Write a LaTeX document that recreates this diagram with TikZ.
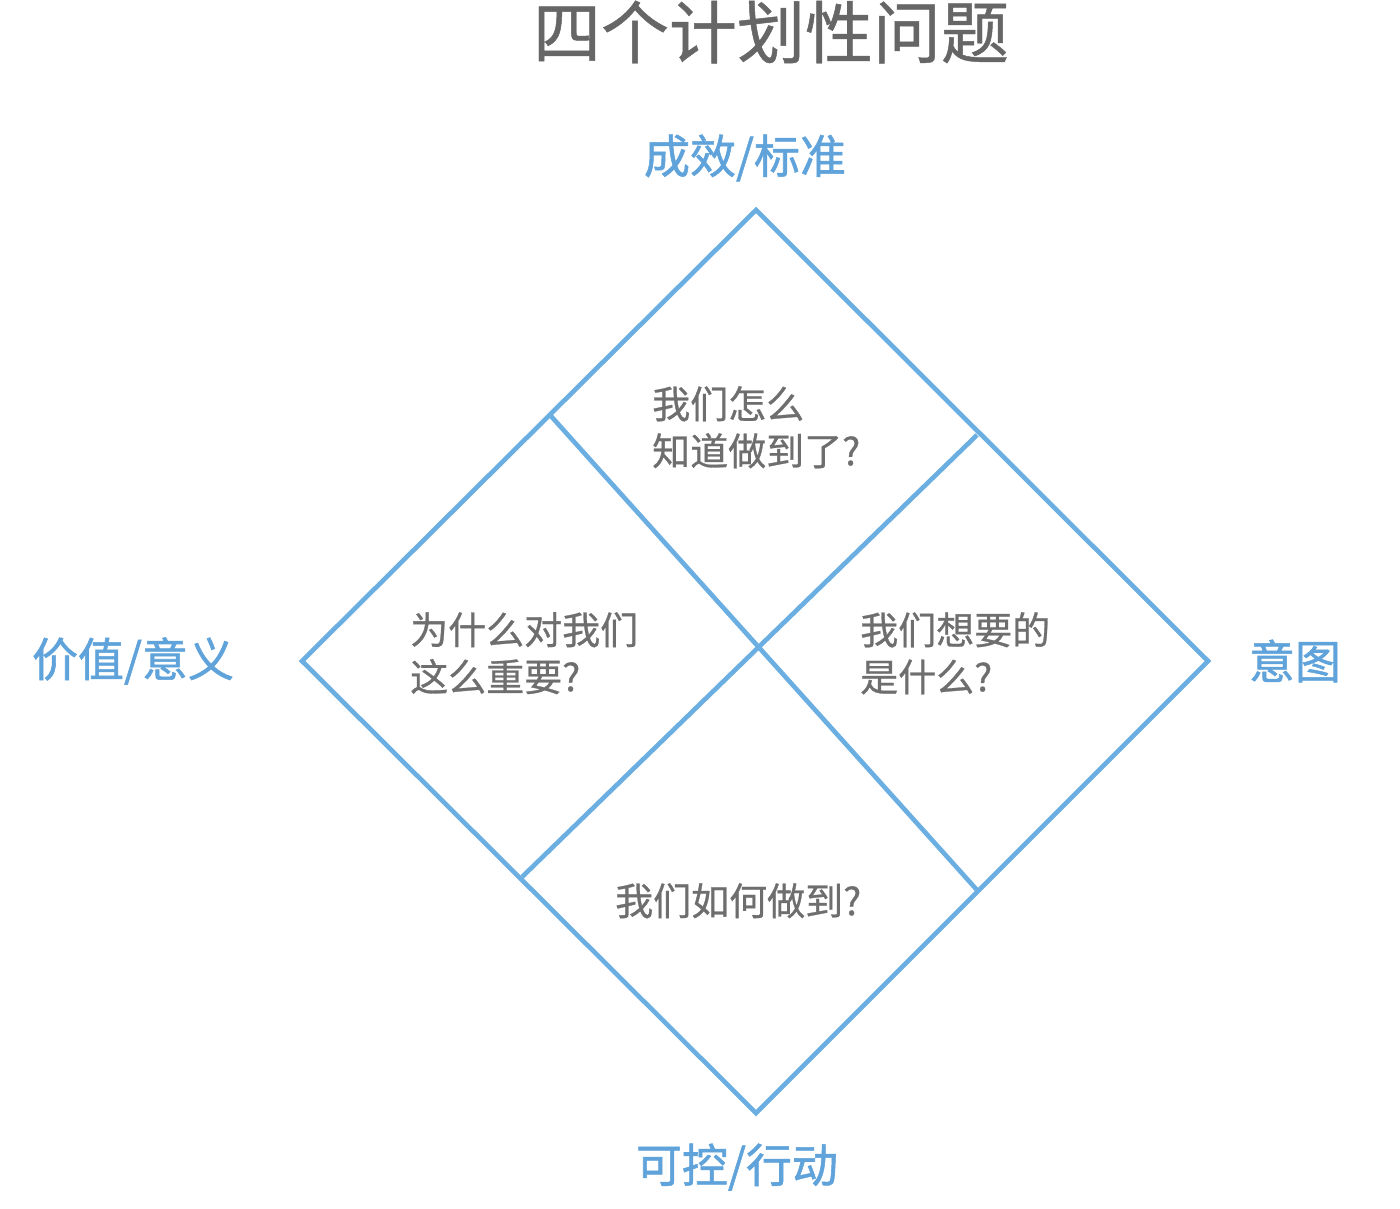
\documentclass[tikz,border=0pt]{standalone}
\usepackage{fontspec}
\setmainfont{Noto Sans CJK SC}
\newfontfamily\medfont{Noto Sans CJK SC}[FakeBold=1.2]
\newfontfamily\semfont{Noto Sans CJK SC}[FakeBold=0.7]
\definecolor{lineblue}{HTML}{6AAEE2}
\definecolor{labblue}{HTML}{5FA3DA}
\definecolor{titlegray}{HTML}{666666}
\definecolor{txtgray}{HTML}{6E6E6E}
\begin{document}
\begin{tikzpicture}[x=1pt,y=-1pt,
  edge/.style={draw=lineblue,line width=4.6pt,line join=miter},
  lab/.style={text=labblue,font=\medfont\fontsize{46}{52}\selectfont,inner sep=0pt},
  qtext/.style={text=txtgray,font=\semfont\fontsize{38}{47}\selectfont,align=left,inner sep=0pt,anchor=north west}]
\useasboundingbox (0,0) rectangle (1400,1208);
\fill[white] (0,0) rectangle (1400,1208);
\node[text=titlegray,font=\semfont\fontsize{68}{74}\selectfont,inner sep=0pt] (title) at (771,32) {四个计划性问题};
\coordinate (T) at (756,210);
\coordinate (R) at (1208,661);
\coordinate (B) at (756,1113);
\coordinate (L) at (302,661);
\coordinate (a1) at (550,415);
\coordinate (a2) at (977,890);
\coordinate (b1) at (977,435);
\coordinate (b2) at (522,877);
\draw[edge] (T) -- (R) -- (B) -- (L) -- cycle;
\draw[edge] (a1) -- (a2);
\draw[edge] (b1) -- (b2);
\node[lab] (top) at (745,158) {成效/标准};
\node[lab] (left) at (133,661) {价值/意义};
\node[lab] (right) at (1295,661) {意图};
\node[lab] (bottom) at (737,1167) {可控/行动};
\node[qtext] (q1) at (652,386) {我们怎么\\知道做到了?};
\node[qtext] (q2) at (410,612) {为什么对我们\\这么重要?};
\node[qtext] (q3) at (860,612) {我们想要的\\是什么?};
\node[qtext] (q4) at (615,883) {我们如何做到?};
\end{tikzpicture}
\end{document}
